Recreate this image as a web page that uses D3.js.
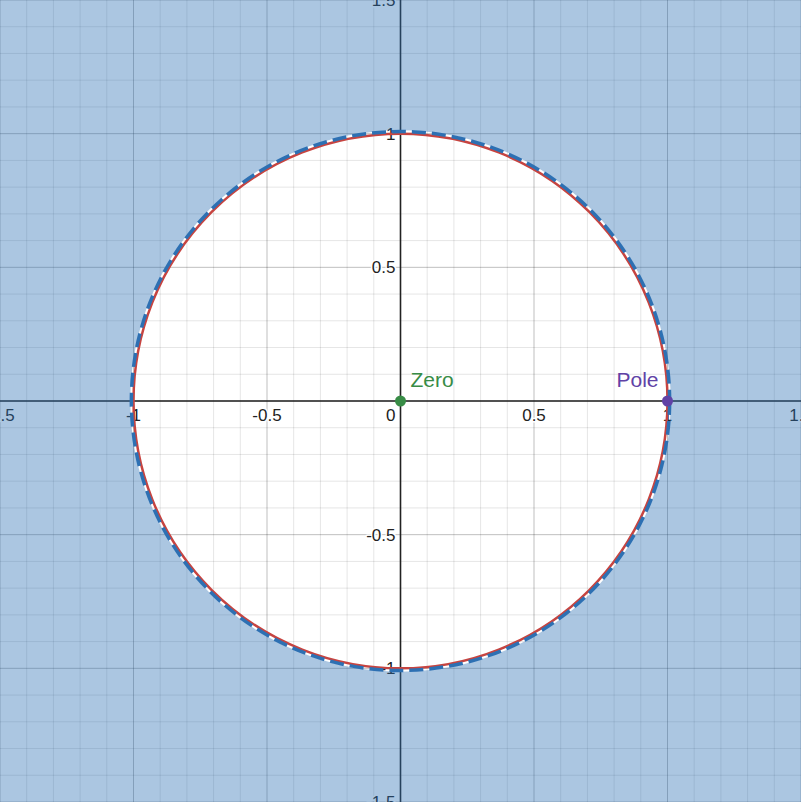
<!DOCTYPE html>
<html><head><meta charset="utf-8">
<script src="https://cdn.jsdelivr.net/npm/d3@7"></script>
<style>html,body{margin:0;padding:0;background:#fff;overflow:hidden}svg{display:block}</style>
</head><body><svg id="c" width="801" height="802"></svg>
<script>
const xDomain = [-1.5, 1.5];
const yDomain = [-1.5, 1.5];
const xTickValues = [-1.5, -1, -0.5, 0, 0.5, 1, 1.5];
const xTickLabels = ["-1.5", "-1", "-0.5", "0", "0.5", "1", "1.5"];
const yTickValues = [-1.5, -1, -0.5, 0.5, 1, 1.5];
const yTickLabels = ["-1.5", "-1", "-0.5", "0.5", "1", "1.5"];
const unitCircleRadius = [1];
const boundaryRadius = [1.008];
const pointNames = ["Zero", "Pole"];
const pointRe = [0, 1];
const pointIm = [0, 0];
const pointColors = ["#388c46", "#6042a6"];

const W = 801, H = 802;
const svg = d3.select("#c");
const x = d3.scaleLinear().domain(xDomain).range([0, W]);
const y = d3.scaleLinear().domain(yDomain).range([H, 0]);

// grid
const minor = d3.range(-15, 16).map(d => d / 10);
const g = svg.append("g");
minor.forEach(v => {
  const major = Math.abs(Math.round(v * 10) % 5) === 0;
  const col = major ? "rgba(0,0,0,0.25)" : "rgba(0,0,0,0.1)";
  g.append("line").attr("x1", x(v)).attr("x2", x(v)).attr("y1", 0).attr("y2", H)
    .attr("stroke", col).attr("stroke-width", 1);
  g.append("line").attr("y1", y(v)).attr("y2", y(v)).attr("x1", 0).attr("x2", W)
    .attr("stroke", col).attr("stroke-width", 1);
});

// axes
svg.append("line").attr("x1", 0).attr("x2", W).attr("y1", y(0)).attr("y2", y(0))
  .attr("stroke", "#222").attr("stroke-width", 1.6);
svg.append("line").attr("x1", x(0)).attr("x2", x(0)).attr("y1", 0).attr("y2", H)
  .attr("stroke", "#222").attr("stroke-width", 1.6);

const lbl = svg.append("g").attr("font-family", "Liberation Sans, Arial, sans-serif")
  .attr("font-size", 17).attr("fill", "#222")
  .attr("stroke", "#fff").attr("stroke-width", 3).attr("paint-order", "stroke")
  .attr("stroke-linejoin", "round");
xTickValues.forEach((v, i) => {
  lbl.append("text").attr("x", v === 0 ? x(0) - 5 : x(v))
    .attr("y", y(0) + 20)
    .attr("text-anchor", v === 0 ? "end" : "middle")
    .text(xTickLabels[i]);
});
yTickValues.forEach((v, i) => {
  lbl.append("text").attr("x", x(0) - 5).attr("y", y(v) + 6)
    .attr("text-anchor", "end").text(yTickLabels[i]);
});

// shading outside boundary
const rx = x(boundaryRadius[0] + 0.004) - x(0);
const ry = y(0) - y(boundaryRadius[0] + 0.004);
const cx = x(0), cy = y(0);
const shade = `M0,0H${W}V${H}H0Z M${cx + rx},${cy} A${rx},${ry} 0 1,0 ${cx - rx},${cy} A${rx},${ry} 0 1,0 ${cx + rx},${cy}Z`;
svg.append("path").attr("d", shade).attr("fill", "#2d70b3").attr("fill-opacity", 0.4)
  .attr("fill-rule", "evenodd");

// red unit circle
svg.append("ellipse").attr("cx", cx).attr("cy", cy)
  .attr("rx", x(unitCircleRadius[0]) - x(0)).attr("ry", y(0) - y(unitCircleRadius[0]))
  .attr("fill", "none").attr("stroke", "#c74440").attr("stroke-width", 2.5);

// dashed blue boundary
svg.append("ellipse").attr("cx", cx).attr("cy", cy)
  .attr("rx", x(boundaryRadius[0]) - x(0)).attr("ry", y(0) - y(boundaryRadius[0]))
  .attr("fill", "none").attr("stroke", "#2d70b3").attr("stroke-width", 3.5)
  .attr("stroke-dasharray", "14,6");

// points
pointNames.forEach((n, i) => {
  svg.append("circle").attr("cx", x(pointRe[i])).attr("cy", y(pointIm[i])).attr("r", 5.5)
    .attr("fill", pointColors[i]);
  const right = pointRe[i] > 0.5;
  svg.append("text").attr("x", right ? x(pointRe[i]) - 9 : x(pointRe[i]) + 10)
    .attr("y", y(pointIm[i]) - 14)
    .attr("text-anchor", right ? "end" : "start")
    .attr("font-family", "Liberation Sans, Arial, sans-serif").attr("font-size", 21)
    .attr("fill", pointColors[i]).text(n);
});
</script></body></html>
